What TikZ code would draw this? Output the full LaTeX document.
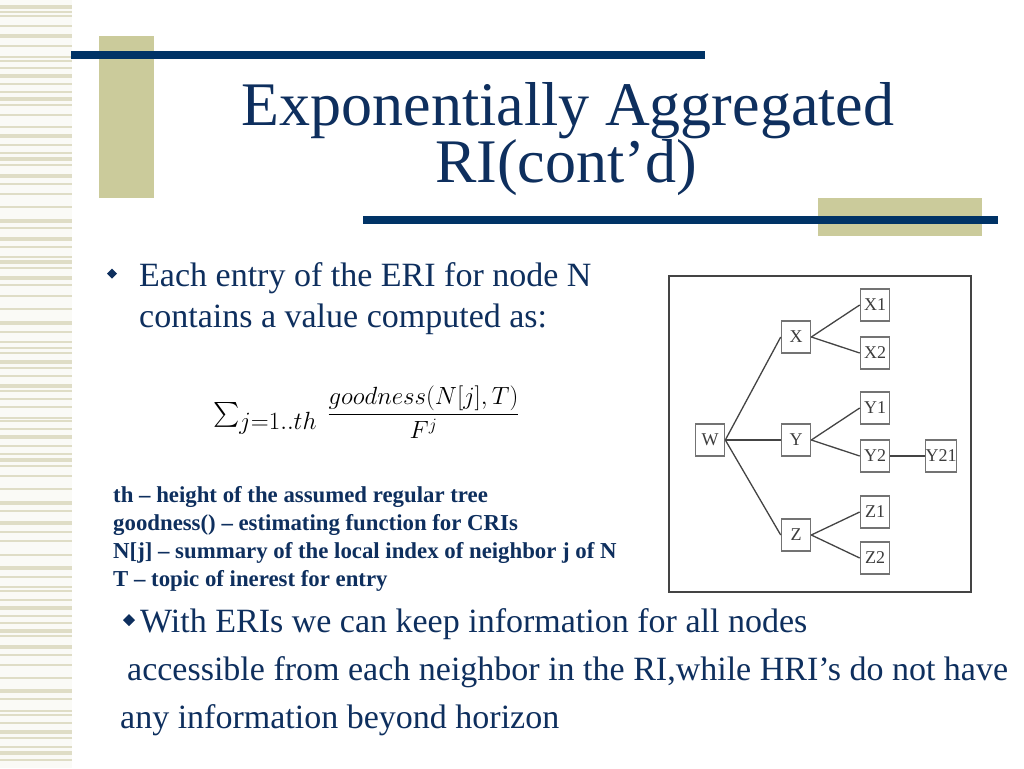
\documentclass[tikz,border=0pt]{standalone}
\usepackage{amsmath}
\usepackage{fontspec}
\setmainfont{Liberation Serif}
\usepackage{tikz}

\definecolor{barblue}{HTML}{003366}
\definecolor{slidetan}{HTML}{CBCB9B}
\definecolor{stripetan}{HTML}{DFDDC6}
\definecolor{textblue}{HTML}{0E2F5E}
\definecolor{treegray}{HTML}{444444}

\tikzset{
  treebox/.style={draw=treegray!75, line width=1.6, fill=white, minimum width=29, minimum height=32,
    inner sep=0, font=\fontsize{18}{20}\selectfont, text=treegray!90!black},
  treeedge/.style={draw=treegray, line width=1.3},
  titletext/.style={anchor=base, inner sep=0, text=textblue, text depth=0pt, font=\fontsize{62}{62}\selectfont},
  bodytext/.style={anchor=base west, inner sep=0, text=textblue, font=\fontsize{34}{40}\selectfont},
  deftext/.style={anchor=base west, inner sep=0, text=textblue, font=\fontsize{22.8}{28}\selectfont\bfseries}
}

\begin{document}
\begin{tikzpicture}[x=1pt, y=-1pt]
                \useasboundingbox[fill=white] (0,0) rectangle (1024,768);

                % Side stripes
                \fill[stripetan!15] (0,0) rectangle (72,768);
                \foreach \y/\w in {7/3.5,12/1.5,16/1.5,26/1.5,36/3.5,46/1.5,57/1.5,61/1.5,68/1.5,76/3.5,
                  84/1.5,92/1.5,99/3.5,105/1.5,115/1.5,127/1.5,136/3.5,145/1.5,153/1.5,159/3.5,165/1.5,
                  176/3.5,184/1.5,194/1.5,207/1.5,221/3.5,228/1.5,239/3.5,247/1.5,257/1.5,262/3.5,268/1.5,
                  278/3.5,285/1.5,296/1.5,309/1.5,323/3.5,332/1.5,342/1.5,348/1.5,353/1.5,362/3.5,368/1.5,
                  376/1.5,386/3.5,391/1.5,399/1.5,407/1.5,418/1.5,421/1.5,429/1.5,437/3.5,446/1.5,454/1.5,
                  460/3.5,466/1.5,476/1.5,489/1.5,503/3.5,511/1.5,523/3.5,532/1.5,541/1.5,555/1.5,568/3.5,
                  577/1.5,587/1.5,591/1.5,600/1.5,608/3.5,616/1.5,623/1.5,631/3.5,636/1.5,647/3.5,655/1.5,
                  665/1.5,678/1.5,691/3.5,699/1.5,711/1.5,715/1.5,723/1.5,732/3.5,738/1.5,747/1.5,753/3.5,760/1.5}
                  \draw[stripetan, line width=\w] (0,\y) -- (72,\y);

                % Title bars
                \fill[slidetan] (99,36) rectangle (154,198);
                \fill[barblue] (71,51) rectangle (705,59);
                \fill[slidetan] (818,198) rectangle (982,236);
                \fill[barblue] (363,216) rectangle (998,224);

                % Title
                \node[titletext] (title) at (568,125) {Exponentially Aggregated};
                \node[titletext] (titlecont) at (566,182) {RI(cont’d)};

                % First bullet
                \fill[textblue] (112,268.5) -- (117,273.5) -- (112,278.5) -- (107,273.5) -- cycle;
                \node[bodytext] (entry) at (139,286) {Each entry of the ERI for node N};
                \node[bodytext] (contains) at (139,327) {contains a value computed as:};

                % Formula
                \node[anchor=base west, inner sep=0, font=\fontsize{25}{30}\selectfont] (formula) at (213,421)
                  {$\mathop{\text{\fontsize{31}{31}\selectfont$\textstyle\sum$}}\nolimits_{\textstyle j{=}1..th}\ \dfrac{goodness(N[j],T)}{F^{j}}$};

                % Definitions
                \node[deftext] (defth) at (113,502) {th – height of the assumed regular tree};
                \node[deftext] (defgood) at (113,530) {goodness() – estimating function for CRIs};
                \node[deftext] (defnj) at (113,558) {N[j] – summary of the local index of neighbor j of N};
                \node[deftext] (deft) at (113,586) {T – topic of inerest for entry};

                % Second bullet
                \fill[textblue] (129,614) -- (135,620) -- (129,626) -- (123,620) -- cycle;
                \node[bodytext] (witheri) at (140,632) {With ERIs we can keep information for all nodes};
                \node[bodytext] (access) at (127,680) {accessible from each neighbor in the RI,while HRI’s do not have};
                \node[bodytext] (beyond) at (120,728) {any information beyond horizon};

                % Tree figure
                \draw[line width=1.6, treegray] (669,276) rectangle (971,592);
                \node[treebox] (W) at (710,440) {W};
                \node[treebox] (X) at (796,337) {X};
                \node[treebox] (Y) at (796,440) {Y};
                \node[treebox] (Z) at (796,535) {Z};
                \node[treebox] (X1) at (875,305) {X1};
                \node[treebox] (X2) at (875,353) {X2};
                \node[treebox] (Y1) at (875,408) {Y1};
                \node[treebox] (Y2) at (875,456) {Y2};
                \node[treebox] (Y21) at (941,456) {Y21};
                \node[treebox] (Z1) at (875,512) {Z1};
                \node[treebox] (Z2) at (875,558) {Z2};

                \draw[treeedge] (W.east) -- (X.west);
                \draw[treeedge] (W.east) -- (Y.west);
                \draw[treeedge] (W.east) -- (Z.west);
                \draw[treeedge] (X.east) -- (X1.west);
                \draw[treeedge] (X.east) -- (X2.west);
                \draw[treeedge] (Y.east) -- (Y1.west);
                \draw[treeedge] (Y.east) -- (Y2.west);
                \draw[treeedge] (Y2.east) -- (Y21.west);
                \draw[treeedge] (Z.east) -- (Z1.west);
                \draw[treeedge] (Z.east) -- (Z2.west);
            \end{tikzpicture}
\end{document}
